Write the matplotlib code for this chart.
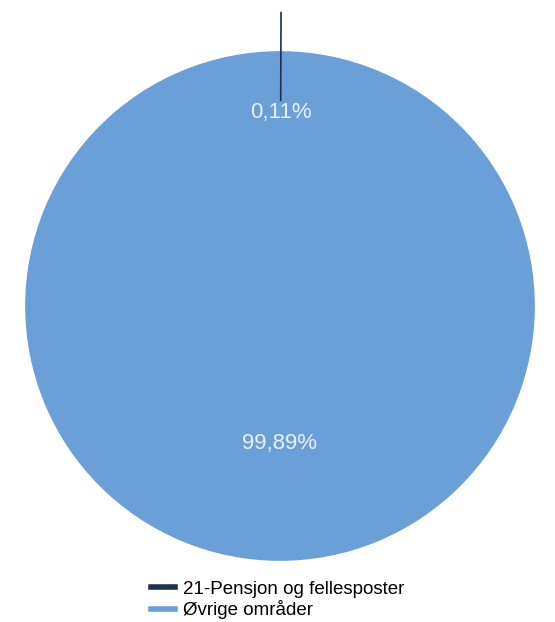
import numpy as np
import matplotlib.pyplot as plt
from matplotlib.lines import Line2D

plt.rcParams["font.family"] = ["Liberation Sans", "DejaVu Sans"]

labels = ["21-Pensjon og fellesposter", "Øvrige områder"]
values = [0.11, 99.89]
pct_labels = ["0,11%", "99,89%"]
colors = ["#1d3250", "#6a9fd8"]

fig = plt.figure(figsize=(5.55, 6.22), dpi=100)
ax = fig.add_axes([26 / 555, 62 / 622, 508 / 555, 508 / 622])

wedges, _ = ax.pie(values, colors=colors, startangle=90, counterclock=False,
                   radius=1.0, wedgeprops=dict(linewidth=1.2, edgecolor=colors[1]))

# percentage labels
label_r = [0.76, 0.54]
for w, txt, r in zip(wedges, pct_labels, label_r):
    ang = np.deg2rad((w.theta1 + w.theta2) / 2)
    ax.text(r * np.cos(ang), r * np.sin(ang), txt, ha="center", va="center",
            color="#e8f0fa", fontsize=16)

# marker line for the thin slice
w0 = wedges[0]
ang0 = np.deg2rad((w0.theta1 + w0.theta2) / 2)
ax.plot([0.81 * np.cos(ang0), 1.155 * np.cos(ang0)],
        [0.81 * np.sin(ang0), 1.155 * np.sin(ang0)],
        color=colors[0], lw=1.2, clip_on=False)

ax.set_xlim(-1, 1)
ax.set_ylim(-1, 1)
ax.set_aspect("equal")
ax.axis("off")

handles = [Line2D([0], [0], color=c, lw=4) for c in colors]
fig.legend(handles, labels, loc="center", bbox_to_anchor=(0.5, 1 - 600 / 622),
           frameon=False, fontsize=13.5, handlelength=1.3, handletextpad=0.4,
           labelspacing=0.15, borderpad=0)

fig.savefig("out.png", dpi=100, facecolor="white")
